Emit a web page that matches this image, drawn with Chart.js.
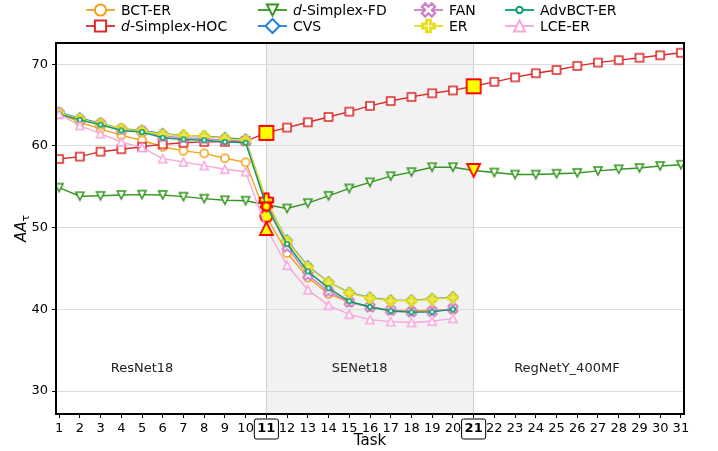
<!DOCTYPE html>
<html>
<head>
<meta charset="utf-8">
<script src="https://cdn.jsdelivr.net/npm/chart.js@4.4.1/dist/chart.umd.min.js"></script>
<style>
  body { margin: 0; background: #fff; }
</style>
</head>
<body>
<canvas id="chart" width="718" height="451"></canvas>
<script>
// task index on the x axis
const tasks = [1, 2, 3, 4, 5, 6, 7, 8, 9, 10, 11, 12, 13, 14, 15, 16, 17, 18, 19, 20,
  21, 22, 23, 24, 25, 26, 27, 28, 29, 30, 31];
const boldTasks = [11, 21];
const yTicks = [30, 40, 50, 60, 70];

// AA_tau per task
const bctEr = [64.0, 62.9, 62.1, 61.3, 60.7, 59.9, 59.4, 59.1, 58.5, 58.0,
  51.4, 46.9, 43.9, 41.9, 40.9, 40.3, 39.9, 39.8, 39.9, 40.0];
const dSimplexHoc = [58.4, 58.7, 59.3, 59.6, 59.9, 60.2, 60.4, 60.5, 60.5, 60.6,
  61.6, 62.25, 62.9, 63.55, 64.2, 64.9, 65.5, 66.0, 66.45, 66.8,
  67.3, 67.85, 68.4, 68.9, 69.3, 69.8, 70.2, 70.5, 70.8, 71.1, 71.4];
const dSimplexFd = [54.9, 53.85, 53.9, 54.0, 54.05, 54.0, 53.8, 53.55, 53.35, 53.3,
  52.8, 52.35, 53.0, 53.9, 54.8, 55.55, 56.3, 56.8, 57.4, 57.4,
  57.0, 56.75, 56.5, 56.5, 56.6, 56.7, 56.95, 57.15, 57.3, 57.55, 57.7];
const cvs = [64.1, 63.4, 62.8, 62.1, 61.9, 61.5, 61.3, 61.2, 61.0, 60.8,
  53.2, 48.45, 45.3, 43.35, 42.05, 41.45, 41.1, 41.1, 41.3, 41.5];
const fan = [64.0, 63.2, 62.7, 62.0, 61.8, 61.2, 61.0, 60.9, 60.7, 60.6,
  52.9, 47.65, 44.2, 42.2, 40.9, 40.3, 39.9, 39.7, 39.75, 40.1];
const er = [64.0, 63.3, 62.7, 62.1, 61.8, 61.4, 61.3, 61.2, 60.9, 60.7,
  53.4, 48.35, 45.2, 43.3, 42.0, 41.4, 41.05, 41.05, 41.25, 41.45];
const advBctEr = [63.9, 63.2, 62.6, 61.9, 61.7, 61.0, 60.8, 60.7, 60.5, 60.4,
  52.6, 48.0, 44.65, 42.6, 41.0, 40.3, 39.8, 39.65, 39.7, 40.0];
const lceEr = [63.9, 62.5, 61.5, 60.5, 59.8, 58.45, 58.05, 57.6, 57.15, 56.85,
  49.9, 45.4, 42.4, 40.5, 39.4, 38.75, 38.5, 38.4, 38.55, 38.9];

const regions = [
  { name: "ResNet18", at: 5 },
  { name: "SENet18", at: 15.5 },
  { name: "RegNetY_400MF", at: 25.5 },
];

const FONT = '"DejaVu Sans", sans-serif';
Chart.defaults.font.family = FONT;

const series = [
  { label: [["BCT-ER", false]], data: bctEr, color: "#f4a11c", shape: "circle", size: 8, big: 12, lw: 1.6 },
  { label: [["d", true], ["-Simplex-HOC", false]], data: dSimplexHoc, color: "#dc2a2a", shape: "square", size: 8, big: 14, lw: 1.6 },
  { label: [["d", true], ["-Simplex-FD", false]], data: dSimplexFd, color: "#33961e", shape: "triDown", size: 8, big: 13, lw: 1.6 },
  { label: [["CVS", false]], data: cvs, color: "#1f7fe8", shape: "diamond", size: 10, big: 14, lw: 1.6 },
  { label: [["FAN", false]], data: fan, color: "#cf7fc8", shape: "x", size: 10, big: 13, lw: 1.8 },
  { label: [["ER", false]], data: er, color: "#e6df1c", shape: "plus", size: 8.5, big: 13, lw: 2.4 },
  { label: [["AdvBCT-ER", false]], data: advBctEr, color: "#0e9a6e", shape: "circle", size: 4.5, big: 8, lw: 1.6 },
  { label: [["LCE-ER", false]], data: lceEr, color: "#f7a6dc", shape: "triUp", size: 8, big: 13, lw: 1.6 },
];

function drawShape(ctx, shape, x, y, s, fill, stroke, lw) {
  const h = s / 2;
  ctx.beginPath();
  if (shape === "circle") {
    ctx.arc(x, y, h, 0, Math.PI * 2);
  } else if (shape === "square") {
    ctx.rect(x - h, y - h, s, s);
  } else if (shape === "triUp") {
    ctx.moveTo(x, y - h); ctx.lineTo(x + h, y + h); ctx.lineTo(x - h, y + h); ctx.closePath();
  } else if (shape === "triDown") {
    ctx.moveTo(x, y + h); ctx.lineTo(x + h, y - h); ctx.lineTo(x - h, y - h); ctx.closePath();
  } else if (shape === "diamond") {
    ctx.moveTo(x, y - h); ctx.lineTo(x + h, y); ctx.lineTo(x, y + h); ctx.lineTo(x - h, y); ctx.closePath();
  } else {
    // thick plus, rotated for the x
    const a = s / 6;
    const pts = [[-a, -h], [a, -h], [a, -a], [h, -a], [h, a], [a, a], [a, h], [-a, h], [-a, a], [-h, a], [-h, -a], [-a, -a]];
    const r = shape === "x" ? Math.PI / 4 : 0;
    pts.forEach(([px, py], i) => {
      const qx = x + px * Math.cos(r) - py * Math.sin(r);
      const qy = y + px * Math.sin(r) + py * Math.cos(r);
      if (i) ctx.lineTo(qx, qy); else ctx.moveTo(qx, qy);
    });
    ctx.closePath();
  }
  ctx.fillStyle = fill;
  ctx.fill();
  ctx.lineWidth = lw;
  ctx.strokeStyle = stroke;
  ctx.stroke();
}

function markerCanvas(shape, s, fill, stroke, lw) {
  const c = document.createElement("canvas");
  const dim = Math.ceil(s + lw * 2 + 4);
  c.width = dim;
  c.height = dim;
  drawShape(c.getContext("2d"), shape, dim / 2, dim / 2, s, fill, stroke, lw);
  return c;
}

const datasets = series.map((s, i) => {
  const normal = markerCanvas(s.shape, s.size, "#fff", s.color, s.lw);
  const big = markerCanvas(s.shape, s.big, "#ffff00", "#ff0000", 1.8);
  return {
    label: s.label.map(p => p[0]).join(""),
    data: s.data.map((v, j) => ({ x: tasks[j], y: v })),
    borderColor: s.color,
    borderWidth: 1.4,
    order: series.length - i,
    pointStyle: ctx => (ctx.raw && boldTasks.includes(ctx.raw.x) ? big : normal),
    pointRadius: 5,
    pointHoverRadius: 5,
  };
});

const frame = {
  id: "frame",
  beforeDraw(chart) {
    const { ctx, chartArea: a, scales: { x } } = chart;
    const x0 = x.getPixelForValue(boldTasks[0]);
    const x1 = x.getPixelForValue(boldTasks[1]);
    ctx.save();
    ctx.fillStyle = "#f2f2f2";
    ctx.fillRect(x0, a.top, x1 - x0, a.bottom - a.top);
    ctx.restore();
  },
  afterDraw(chart) {
    const { ctx, chartArea: a, scales: { x, y } } = chart;
    ctx.save();
    // axes box
    ctx.strokeStyle = "#000";
    ctx.lineWidth = 2;
    ctx.strokeRect(a.left, a.top, a.right - a.left, a.bottom - a.top);

    // region names
    ctx.fillStyle = "#222";
    ctx.font = "13px " + FONT;
    ctx.textAlign = "center";
    ctx.textBaseline = "middle";
    regions.forEach(r => ctx.fillText(r.name, x.getPixelForValue(r.at), y.getPixelForValue(32.7)));

    // boxes round the bold ticks
    ctx.font = "bold 13px " + FONT;
    ctx.lineWidth = 1;
    ctx.strokeStyle = "#000";
    boldTasks.forEach(t => {
      const w = ctx.measureText(String(t)).width + 6;
      const cx = x.getPixelForValue(t);
      ctx.beginPath();
      ctx.roundRect(cx - w / 2, a.bottom + 5, w, 20, 2);
      ctx.stroke();
    });

    // axis titles
    ctx.fillStyle = "#000";
    ctx.font = "15px " + FONT;
    ctx.fillText("Task", (a.left + a.right) / 2, 441);
    ctx.translate(22, (a.top + a.bottom) / 2);
    ctx.rotate(-Math.PI / 2);
    ctx.font = "italic 15px " + FONT;
    const wA = ctx.measureText("AA").width;
    ctx.font = "11px " + FONT;
    const wT = ctx.measureText("\u03c4").width;
    ctx.textAlign = "left";
    ctx.font = "italic 15px " + FONT;
    ctx.fillText("AA", -(wA + wT) / 2, 0);
    ctx.font = "11px " + FONT;
    ctx.fillText("\u03c4", -(wA + wT) / 2 + wA, 4);
    ctx.restore();

    // legend, filled column by column like matplotlib
    ctx.save();
    const colX = [86, 258, 414, 505];
    const rowY = [10, 26];
    series.forEach((s, i) => {
      const lx = colX[Math.floor(i / 2)];
      const ly = rowY[i % 2];
      ctx.strokeStyle = s.color;
      ctx.lineWidth = 1.8;
      ctx.beginPath();
      ctx.moveTo(lx, ly);
      ctx.lineTo(lx + 29, ly);
      ctx.stroke();
      drawShape(ctx, s.shape, lx + 14.5, ly, s.size * 1.4, "#fff", s.color, s.lw + 0.4);
      let tx = lx + 35;
      ctx.fillStyle = "#000";
      ctx.textBaseline = "middle";
      s.label.forEach(([txt, it]) => {
        ctx.font = (it ? "italic " : "") + "14px " + FONT;
        ctx.fillText(txt, tx, ly + 1);
        tx += ctx.measureText(txt).width;
      });
    });
    ctx.restore();
  },
};

new Chart(document.getElementById("chart"), {
  type: "line",
  data: { datasets },
  options: {
    responsive: false,
    animation: false,
    layout: { padding: { top: 43, right: 34, left: 0, bottom: 0 } },
    plugins: { legend: { display: false }, tooltip: { enabled: false } },
    scales: {
      x: {
        type: "linear",
        min: 0.85,
        max: 31.15,
        afterFit: s => { s.height = 37; },
        border: { display: false },
        grid: {
          color: c => (c.tick && boldTasks.includes(c.tick.value) ? "#cfcfcf" : "rgba(0,0,0,0)"),
          tickColor: "#000",
          tickLength: 4,
        },
        ticks: {
          stepSize: 1,
          includeBounds: false,
          autoSkip: false,
          maxRotation: 0,
          minRotation: 0,
          color: "#000",
          padding: 3,
          font: c => ({ size: 13, weight: c.tick && boldTasks.includes(c.tick.value) ? "bold" : "normal" }),
        },
      },
      y: {
        min: 27.2,
        max: 72.6,
        afterFit: s => { s.width = 56; },
        afterBuildTicks: s => { s.ticks = yTicks.map(v => ({ value: v })); },
        border: { display: false },
        grid: { color: "#dcdcdc", tickColor: "#000", tickLength: 4 },
        ticks: { color: "#000", font: { size: 13 }, padding: 4 },
      },
    },
  },
  plugins: [frame],
});
</script>
</body>
</html>
